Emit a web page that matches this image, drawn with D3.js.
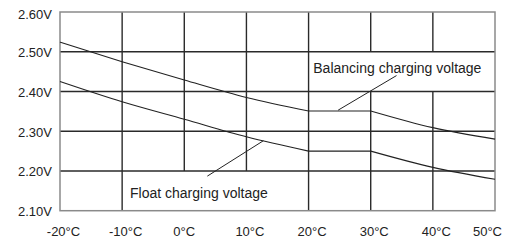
<!DOCTYPE html>
<html>
<head>
<meta charset="utf-8">
<title>Charging voltage vs temperature</title>
<style>
  body { margin: 0; background: #fff; }
  text { font-family: "Liberation Sans", Arial, sans-serif; fill: #222; }
</style>
</head>
<body>
<div id="chart"></div>
<script src="https://cdn.jsdelivr.net/npm/d3@7"></script>
<script>

// temperatures (deg C) the curves are read at
var temps = [-20, -10, 0, 10, 20, 30, 40, 50];

// voltage per cell
var balancing = [2.524, 2.475, 2.429, 2.385, 2.351, 2.351, 2.309, 2.280];
var floatV    = [2.425, 2.374, 2.330, 2.286, 2.250, 2.250, 2.209, 2.179];

// the curves have sharp corners at these temperatures
var corners = [20, 30];

// axis ticks
var voltTicks = [2.10, 2.20, 2.30, 2.40, 2.50, 2.60];
var voltLabels = ["2.10V", "2.20V", "2.30V", "2.40V", "2.50V", "2.60V"];
var tempTicks = [-20, -10, 0, 10, 20, 30, 40, 50];
var tempLabels = ["-20°C", "-10°C", "0°C", "10°C", "20°C", "30°C", "40°C", "50°C"];

// places where the grid is cut for the labels: [temp, fromVolt, toVolt]
var gridGaps = [[0, 2.10, 2.20], [10, 2.10, 2.20], [30, 2.40, 2.50], [40, 2.40, 2.50]];

var w = 514, h = 242;

var x = d3.scaleLinear().domain([-20, 50]).range([60, 495]);
var y = d3.scaleLinear().domain([2.10, 2.60]).range([210.7, 12]);

var svg = d3.select("#chart").append("svg")
    .attr("width", w).attr("height", h);

// horizontal grid lines
svg.selectAll("line.hgrid")
    .data(voltTicks.slice(1, -1))
    .enter().append("line")
    .attr("class", "hgrid")
    .attr("x1", x(-20)).attr("x2", x(50))
    .attr("y1", function(d) { return y(d); })
    .attr("y2", function(d) { return y(d); })
    .attr("stroke", "#2a2a2a").attr("stroke-width", 1.4);

// vertical grid lines, split where a label sits
var vsegs = [];
tempTicks.slice(1, -1).forEach(function(t) {
    var gap = gridGaps.filter(function(g) { return g[0] === t; })[0];
    if (gap) {
        vsegs.push([t, 2.10, gap[1]]);
        vsegs.push([t, gap[2], 2.60]);
    } else {
        vsegs.push([t, 2.10, 2.60]);
    }
});
svg.selectAll("line.vgrid")
    .data(vsegs.filter(function(s) { return s[2] > s[1]; }))
    .enter().append("line")
    .attr("class", "vgrid")
    .attr("x1", function(d) { return x(d[0]); })
    .attr("x2", function(d) { return x(d[0]); })
    .attr("y1", function(d) { return y(d[1]); })
    .attr("y2", function(d) { return y(d[2]); })
    .attr("stroke", "#2a2a2a").attr("stroke-width", 1.4);

// frame
svg.append("rect")
    .attr("x", x(-20)).attr("y", y(2.60))
    .attr("width", x(50) - x(-20)).attr("height", y(2.10) - y(2.60))
    .attr("fill", "none").attr("stroke", "#8a8a8a").attr("stroke-width", 1.5);

// curves: smooth between the corners, sharp at them
var line = d3.line()
    .x(function(d) { return x(d[0]); })
    .y(function(d) { return y(d[1]); })
    .curve(d3.curveMonotoneX);

function pieces(vals) {
    var pts = temps.map(function(t, i) { return [t, vals[i]]; });
    var out = [], cur = [];
    pts.forEach(function(p) {
        cur.push(p);
        if (corners.indexOf(p[0]) >= 0) { out.push(cur); cur = [p]; }
    });
    if (cur.length > 1) out.push(cur);
    return out;
}

[balancing, floatV].forEach(function(s) {
    svg.append("path")
        .attr("d", pieces(s).map(function(p) { return line(p); }).join(""))
        .attr("fill", "none")
        .attr("stroke", "#222")
        .attr("stroke-width", 1.1);
});

// y labels
svg.selectAll("text.ylab")
    .data(voltTicks)
    .enter().append("text")
    .attr("class", "ylab")
    .attr("x", 52)
    .attr("y", function(d) { return Math.max(y(d) + 5.5, 18.5); })
    .attr("text-anchor", "end")
    .attr("font-size", "13px")
    .text(function(d, i) { return voltLabels[i]; });

// x labels
svg.selectAll("text.xlab")
    .data(tempTicks)
    .enter().append("text")
    .attr("class", "xlab")
    .attr("x", function(d, i) { return i === tempTicks.length - 1 ? x(d) + 7 : x(d) + (d === 0 ? 0 : 3.5); })
    .attr("y", 235.5)
    .attr("text-anchor", function(d, i) { return i === tempTicks.length - 1 ? "end" : "middle"; })
    .attr("font-size", "13px")
    .text(function(d, i) { return tempLabels[i]; });

// annotations
svg.append("text")
    .attr("x", x(20.76)).attr("y", y(2.446))
    .attr("font-size", "14px")
    .text("Balancing charging voltage");
svg.append("line")
    .attr("x1", x(24.76)).attr("y1", y(2.353))
    .attr("x2", x(34.15)).attr("y2", y(2.440))
    .attr("stroke", "#222").attr("stroke-width", 1);

svg.append("text")
    .attr("x", x(-8.73)).attr("y", y(2.131))
    .attr("font-size", "14px")
    .text("Float charging voltage");
svg.append("line")
    .attr("x1", x(12.72)).attr("y1", y(2.276))
    .attr("x2", x(3.71)).attr("y2", y(2.187))
    .attr("stroke", "#222").attr("stroke-width", 1);

</script>
</body>
</html>
